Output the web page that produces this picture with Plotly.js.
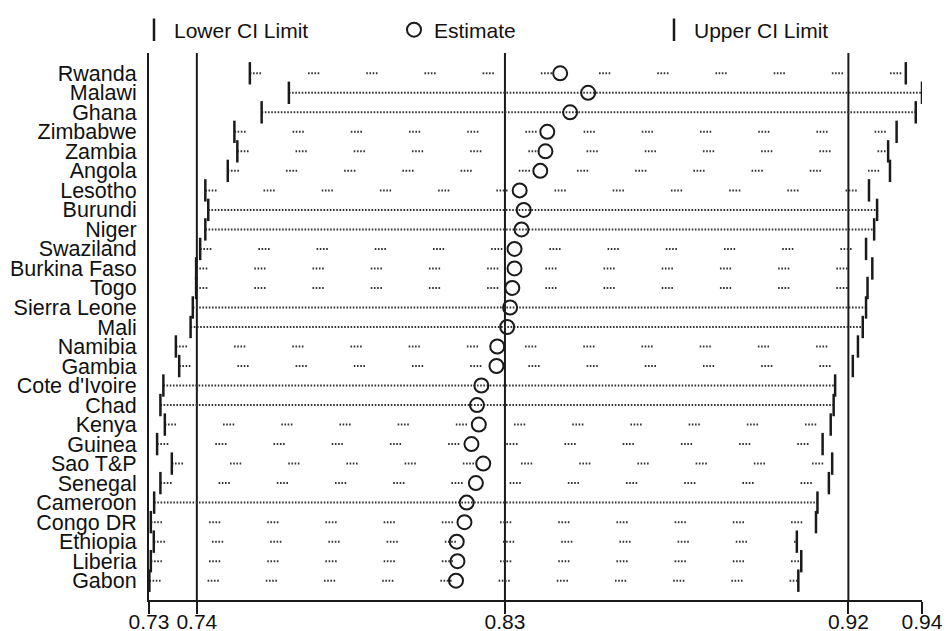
<!DOCTYPE html>
<html>
<head>
<meta charset="utf-8">
<script src="https://cdn.plot.ly/plotly-3.0.1.min.js"></script>
<style>html,body{margin:0;padding:0;background:#fff;}#chart{width:950px;height:631px;}</style>
</head>
<body>
<div id="chart"></div>
<script>
const countries = ["Rwanda","Malawi","Ghana","Zimbabwe","Zambia","Angola","Lesotho","Burundi","Niger","Swaziland","Burkina Faso","Togo","Sierra Leone","Mali","Namibia","Gambia","Cote d'Ivoire","Chad","Kenya","Guinea","Sao T&P","Senegal","Cameroon","Congo DR","Ethiopia","Liberia","Gabon"];
const lowerCI = [0.7574,0.7680,0.7606,0.7532,0.7540,0.7514,0.7453,0.7461,0.7453,0.7439,0.7428,0.7428,0.7419,0.7413,0.7373,0.7382,0.7339,0.7331,0.7343,0.7322,0.7362,0.7331,0.7314,0.7305,0.7313,0.7305,0.7301];
const estimate = [0.8417,0.8493,0.8444,0.8382,0.8377,0.8363,0.8307,0.8318,0.8312,0.8293,0.8293,0.8287,0.8281,0.8273,0.8246,0.8244,0.8203,0.8191,0.8196,0.8176,0.8208,0.8188,0.8163,0.8157,0.8136,0.8138,0.8134];
const upperCI = [0.9356,0.9400,0.9383,0.9331,0.9308,0.9313,0.9256,0.9278,0.9270,0.9248,0.9265,0.9252,0.9248,0.9239,0.9226,0.9212,0.9164,0.9160,0.9152,0.9130,0.9156,0.9147,0.9116,0.9112,0.9060,0.9072,0.9064];
const tickVals = [0.73,0.743,0.8267,0.92,0.94];
const tickText = ["0.73","0.74","0.83","0.92","0.94"];
const refLines = [0.743,0.8267,0.92];
const denseRows = ["Malawi","Ghana","Burundi","Niger","Sierra Leone","Mali","Cote d'Ivoire","Chad","Cameroon"];

const ink = '#1a1a1a';
const font = 'Arial, "Liberation Sans", sans-serif';
const traces = [];
countries.forEach((c, i) => {
  const dense = denseRows.indexOf(c) >= 0;
  traces.push({
    type: 'scatter', mode: 'lines', x: [lowerCI[i], upperCI[i]], y: [c, c],
    line: {color: '#333', width: 2,
      dash: dense ? '1.6px,1.6px' : '1.6px,1.6px,1.6px,1.6px,1.6px,1.6px,1.6px,47px'},
    showlegend: false, hoverinfo: 'skip'
  });
});
traces.push({type:'scatter', mode:'markers', name:'Lower CI Limit', x: lowerCI, y: countries,
  marker:{symbol:'line-ns', size:16, line:{width:2.5, color:ink}, color:ink}});
traces.push({type:'scatter', mode:'markers', name:'Estimate', x: estimate, y: countries,
  marker:{symbol:'circle-open', size:14, line:{width:2, color:ink}, color:ink}});
traces.push({type:'scatter', mode:'markers', name:'Upper CI Limit', x: upperCI, y: countries,
  marker:{symbol:'line-ns', size:16, line:{width:2.5, color:ink}, color:ink}});

const shapes = refLines.map(v => ({type:'line', xref:'x', yref:'paper', x0:v, x1:v, y0:0, y1:1,
  line:{color:ink, width:2}, layer:'below'}));

const layout = {
  width: 950, height: 631,
  margin: {l:149, r:28, t:53, b:31, autoexpand:false},
  paper_bgcolor:'#fff', plot_bgcolor:'#fff',
  font: {family: font, color: '#111'},
  showlegend: true,
  legend: {orientation:'h', x:-0.0194, xanchor:'left', y:1.042, yanchor:'middle',
    entrywidth:215, entrywidthmode:'pixels', font:{size:21, family:font, color:'#111'},
    itemsizing:'trace', bgcolor:'rgba(0,0,0,0)'},
  xaxis: {range:[0.73,0.94], tickvals: tickVals, ticktext: tickText, ticks:'outside', ticklen:12,
    tickwidth:2, tickcolor:ink, showline:true, linewidth:2, linecolor:ink, showgrid:false,
    zeroline:false, tickfont:{size:21, family:font, color:'#111'}, ticklabelstandoff:-10, fixedrange:true},
  yaxis: {type:'category', categoryorder:'array', categoryarray: countries, range:[26.99,-1.04],
    tickmode:'array', tickvals: countries, ticktext: countries,
    showline:true, linewidth:2, linecolor:ink, ticks:'', showgrid:false, zeroline:false,
    tickfont:{size:21.5, family:font, color:'#111'}, ticklabelstandoff:6, fixedrange:true},
  shapes: shapes
};
Plotly.newPlot('chart', traces, layout, {displayModeBar:false, staticPlot:true});
</script>
</body>
</html>
